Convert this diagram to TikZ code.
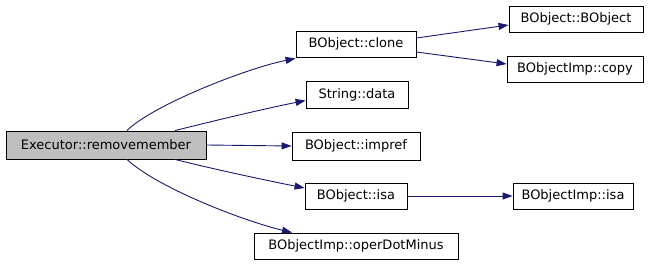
\documentclass[tikz,border=0pt]{standalone}
\usepackage{fontspec}
\setmainfont{DejaVu Sans}
\usetikzlibrary{arrows.meta,calc}
\definecolor{edgeblue}{HTML}{191970}
\definecolor{fillgray}{HTML}{BFBFBF}
\begin{document}
\begin{tikzpicture}[x=1pt,y=-1pt,
  fn/.style={draw=black,line width=0.9pt,inner sep=0pt,minimum height=26pt,font=\fontsize{13}{16}\selectfont,anchor=center},
  edge/.style={draw=edgeblue,line width=0.9pt,-{Triangle[length=10pt,width=7pt]}}]
\useasboundingbox (0,0) rectangle (653,265);
\fill[white] (0,0) rectangle (653,265);
\node[fn,fill=fillgray,minimum width=200pt,minimum height=28pt] (exec) at (106,145) {Executor::removemember};
\node[fn,minimum width=120pt] (clone) at (356,44) {BObject::clone};
\node[fn,minimum width=134pt] (bobj) at (576,19) {BObject::BObject};
\node[fn,minimum width=136pt] (copy) at (575,69) {BObjectImp::copy};
\node[fn,minimum width=102pt,minimum height=27pt] (sdata) at (357,94.5) {String::data};
\node[fn,minimum width=128pt,minimum height=28pt] (impref) at (356,146) {BObject::impref};
\node[fn,minimum width=102pt] (isa) at (356,196) {BObject::isa};
\node[fn,minimum width=120pt] (impisa) at (573,196) {BObjectImp::isa};
\node[fn,minimum width=204pt] (dotminus) at (356,246) {BObjectImp::operDotMinus};
\draw[edge] ([xshift=21pt]exec.north) .. controls +(25,-25) and +(-50,10) .. ([yshift=-1pt]clone.south west);
\draw[edge] ([xshift=69pt]exec.north) .. controls +(40,-10) and +(-40,8) .. ([yshift=-6pt]sdata.west);
\draw[edge] (exec.east) -- (impref.west);
\draw[edge] ([xshift=69pt]exec.south) .. controls +(40,10) and +(-40,-8) .. ([yshift=8pt]isa.west);
\draw[edge] ([xshift=21pt]exec.south) .. controls +(30,28) and +(-50,-12) .. ([xshift=-64pt]dotminus.north);
\draw[edge] ([yshift=6pt]clone.east) -- ([yshift=-6pt]bobj.west);
\draw[edge] ([yshift=-8pt]clone.east) -- ([yshift=5pt]copy.west);
\draw[edge] (isa.east) -- (impisa.west);
\end{tikzpicture}
\end{document}
